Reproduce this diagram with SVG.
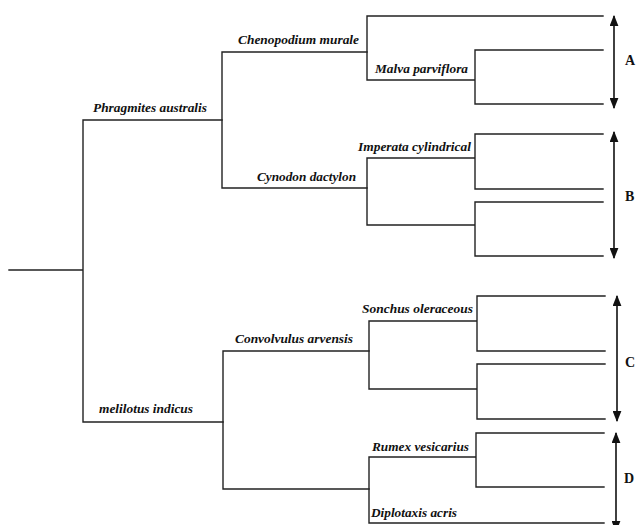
<svg xmlns="http://www.w3.org/2000/svg" width="636" height="525" viewBox="0 0 636 525">
<style>
.e{stroke:#222;stroke-width:1.4;fill:none;stroke-linecap:square}
.a{stroke:#111;stroke-width:1.6;fill:none;marker-start:url(#ah);marker-end:url(#ah)}
.t{font-family:"Liberation Serif","Times New Roman","DejaVu Serif",serif;font-weight:bold;font-style:italic;font-size:12px;fill:#111}
.g{font-family:"Liberation Serif","Times New Roman",serif;font-weight:bold;font-size:14px;fill:#111}
</style>
<defs>
<marker id="ah" viewBox="0 0 10 8" refX="9" refY="4" markerWidth="11" markerHeight="9" markerUnits="userSpaceOnUse" orient="auto-start-reverse">
<path d="M0,0 L10,4 L0,8 Z" fill="#111"/>
</marker>
</defs>
<rect width="636" height="525" fill="#fff"/>
<g id="connectors">
<path class="e" d="M9,270 H83 M83,120 V422 M83,120 H222 M83,422 H223"/>
<path class="e" d="M222,52 V188 M222,52 H367 M222,188 H367"/>
<path class="e" d="M367,16 V80 M367,16 H603 M367,80 H475 M475,50 V104 M475,50 H603 M475,104 H603"/>
<path class="e" d="M367,158 V225 M367,158 H475 M367,225 H475 M475,134 V189 M475,134 H603 M475,189 H603 M475,202 V256 M475,202 H603 M475,256 H603"/>
<path class="e" d="M223,351 V489 M223,351 H369 M223,489 H369"/>
<path class="e" d="M369,321 V389 M369,321 H477 M369,389 H477 M477,296 V351 M477,296 H605 M477,351 H605 M477,364 V419 M477,364 H605 M477,419 H605"/>
<path class="e" d="M369,457 V523 M369,457 H476 M369,523 H604 M476,433 V487 M476,433 H604 M476,487 H604"/>
</g>
<g id="arrows">
<line class="a" x1="614" y1="16" x2="614" y2="108"/>
<line class="a" x1="614" y1="132" x2="614" y2="258"/>
<line class="a" x1="617" y1="296" x2="617" y2="421"/>
<line class="a" x1="616" y1="433" x2="616" y2="531"/>
</g>
<g id="labels">
<text class="t" x="93" y="112" textLength="114" lengthAdjust="spacingAndGlyphs">Phragmites australis</text>
<text class="t" x="238" y="44" textLength="121" lengthAdjust="spacingAndGlyphs">Chenopodium murale</text>
<text class="t" x="375" y="73" textLength="93" lengthAdjust="spacingAndGlyphs">Malva parviflora</text>
<text class="t" x="358" y="151" textLength="113" lengthAdjust="spacingAndGlyphs">Imperata cylindrical</text>
<text class="t" x="257" y="181" textLength="99" lengthAdjust="spacingAndGlyphs">Cynodon dactylon</text>
<text class="t" x="235" y="343" textLength="118" lengthAdjust="spacingAndGlyphs">Convolvulus arvensis</text>
<text class="t" x="99" y="413" textLength="94" lengthAdjust="spacingAndGlyphs">melilotus indicus</text>
<text class="t" x="362" y="313" textLength="111" lengthAdjust="spacingAndGlyphs">Sonchus oleraceous</text>
<text class="t" x="372" y="451" textLength="97" lengthAdjust="spacingAndGlyphs">Rumex vesicarius</text>
<text class="t" x="371" y="517" textLength="86" lengthAdjust="spacingAndGlyphs">Diplotaxis acris</text>
</g>
<g id="groups">
<text class="g" x="625" y="65">A</text>
<text class="g" x="625" y="201">B</text>
<text class="g" x="625" y="367">C</text>
<text class="g" x="624" y="483">D</text>
</g>
</svg>
